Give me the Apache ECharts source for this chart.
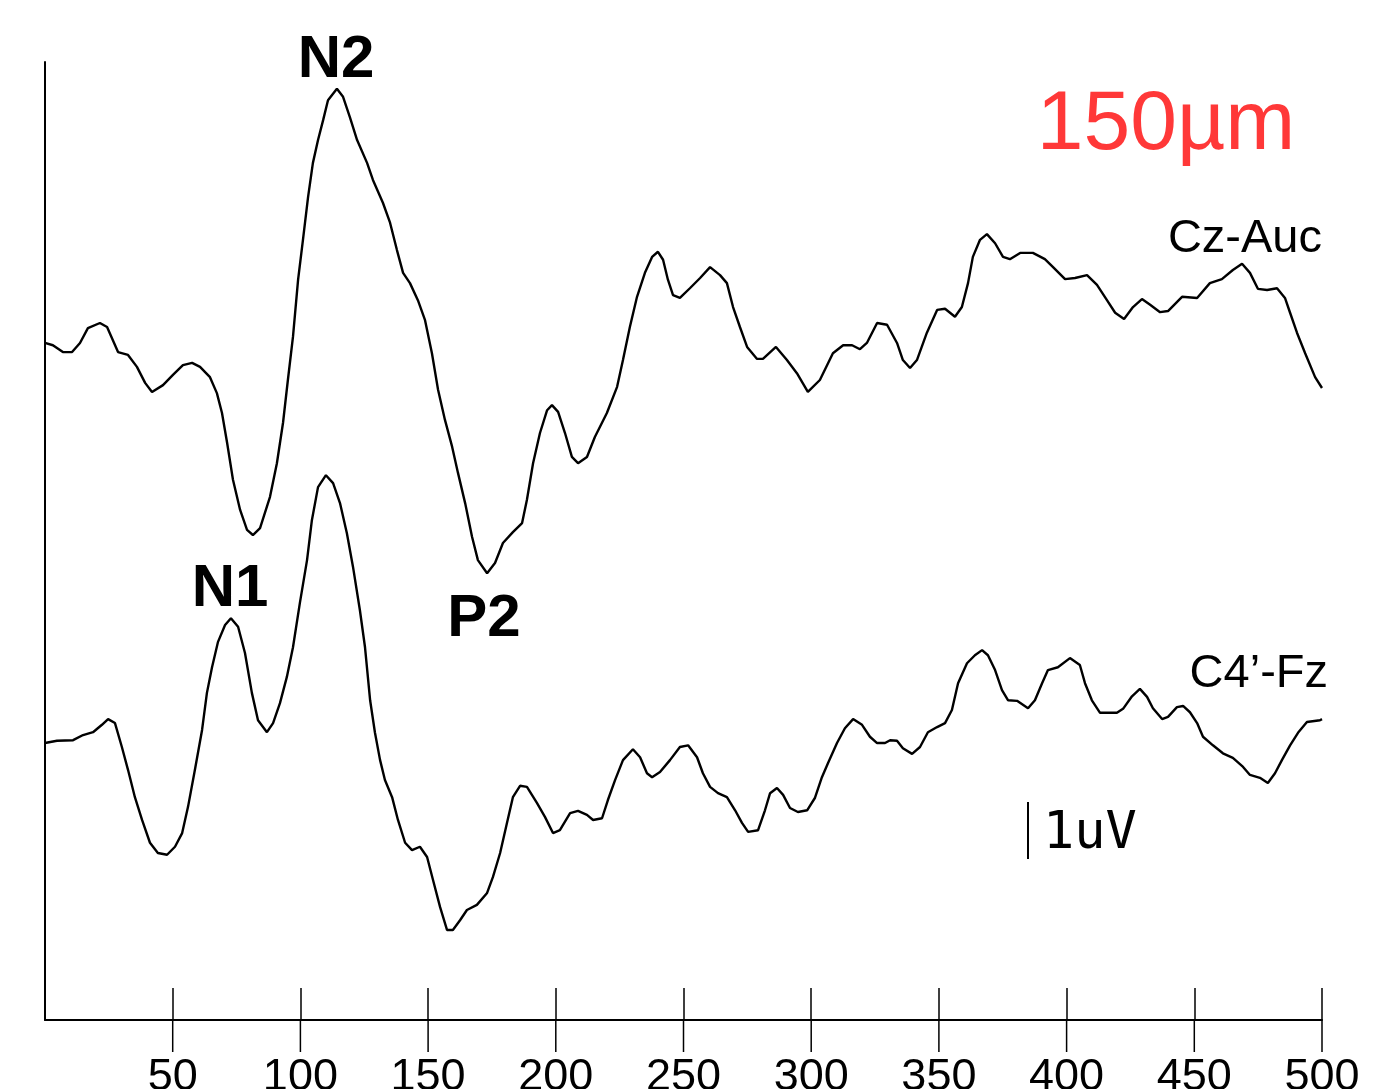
<!DOCTYPE html>
<html>
<head>
<meta charset="utf-8">
<script src="https://cdn.jsdelivr.net/npm/echarts@6/dist/echarts.min.js"></script>
<style>
html,body{margin:0;padding:0;background:#fff;}
#chart{width:1397px;height:1089px;}
</style>
</head>
<body>
<div id="chart"></div>
<script>
// Time axis (ms) tick labels
var tickValues = [50, 100, 150, 200, 250, 300, 350, 400, 450, 500];

// Cz-Auc trace: [time ms, voltage µV] (negative plotted upward)
var czAuc = [
[0,0],[3.1,0.04],[7.0,0.16],[10.6,0.16],[13.7,0],[16.8,-0.26],[21.5,-0.35],[24.3,-0.28],[28.6,0.16],[32.5,0.21],
[36.0,0.42],[39.2,0.70],[41.9,0.86],[46.2,0.74],[50.1,0.56],[54.0,0.39],[57.6,0.35],[60.7,0.42],[64.6,0.60],[67.3,0.88],
[69.3,1.23],[71.3,1.75],[73.6,2.40],[76.4,2.93],[79.1,3.28],[81.4,3.37],[84.2,3.25],[88.1,2.70],[90.8,2.11],[93.2,1.40],
[95.1,0.65],[97.1,-0.11],[99.1,-1.11],[101.0,-1.81],[103.0,-2.56],[104.9,-3.16],[106.9,-3.56],[108.9,-3.91],[110.8,-4.26],[114.3,-4.46],
[116.7,-4.32],[119.4,-3.96],[122.2,-3.56],[126.1,-3.16],[128.4,-2.86],[132.3,-2.46],[135.1,-2.11],[137.8,-1.63],[140.2,-1.23],[142.9,-1.05],
[146.0,-0.75],[148.8,-0.40],[151.5,0.18],[153.9,0.82],[156.6,1.35],[159.4,1.82],[161.7,2.28],[164.5,2.81],[167.2,3.40],[169.5,3.81],
[173.1,4.04],[176.2,3.86],[179.3,3.51],[183.2,3.32],[186.8,3.16],[188.7,2.75],[191.1,2.11],[193.8,1.58],[196.6,1.18],[198.5,1.09],
[200.9,1.21],[203.6,1.58],[206.3,2.00],[208.7,2.11],[212.2,2.00],[215.3,1.65],[220.0,1.23],[224.0,0.77],[226.3,0.30],[229.0,-0.28],
[231.8,-0.81],[234.9,-1.23],[237.7,-1.51],[240.0,-1.60],[242.0,-1.46],[243.9,-1.11],[245.9,-0.84],[248.6,-0.79],[252.5,-0.96],[256.5,-1.14],
[260.4,-1.33],[264.3,-1.19],[267.0,-1.05],[269.4,-0.63],[272.1,-0.28],[274.9,0.07],[278.8,0.28],[281.1,0.28],[286.2,0.07],[290.5,0.30],
[294.4,0.53],[298.7,0.86],[303.4,0.65],[308.5,0.18],[312.5,0.04],[316.0,0.04],[319.1,0.11],[321.8,0],[325.8,-0.35],[329.7,-0.32],
[333.6,0],[335.9,0.30],[338.7,0.44],[341.4,0.30],[345.3,-0.18],[349.3,-0.58],[352.4,-0.60],[356.3,-0.46],[359.0,-0.63],[361.4,-1.05],
[363.3,-1.51],[366.1,-1.81],[368.8,-1.91],[372.0,-1.75],[375.1,-1.51],[377.8,-1.47],[381.8,-1.58],[386.8,-1.58],[391.5,-1.47],[394.7,-1.33],
[399.4,-1.12],[403.3,-1.14],[408.0,-1.19],[411.9,-1.02],[415.8,-0.75],[419.0,-0.53],[422.5,-0.42],[426.0,-0.63],[429.5,-0.77],[432.7,-0.67],
[436.6,-0.54],[439.7,-0.56],[445.2,-0.81],[451.1,-0.79],[456.1,-1.05],[460.8,-1.12],[465.1,-1.28],[468.7,-1.39],[471.8,-1.23],[474.9,-0.95],
[478.5,-0.93],[482.4,-0.96],[485.5,-0.79],[487.5,-0.53],[490.2,-0.18],[493.4,0.18],[497.3,0.60],[500,0.79]
];

// C4'-Fz trace: [time ms, voltage µV]
var c4Fz = [
[0,0],[4.7,-0.04],[11.0,-0.05],[14.9,-0.14],[18.8,-0.19],[22.3,-0.32],[24.7,-0.42],[27.4,-0.35],[30.1,0.07],[32.5,0.47],
[35.2,0.95],[38.0,1.35],[41.1,1.75],[44.2,1.93],[47.8,1.96],[50.9,1.82],[53.7,1.58],[56.0,1.12],[58.7,0.47],[61.5,-0.23],
[63.4,-0.88],[65.4,-1.33],[67.7,-1.77],[70.5,-2.07],[72.8,-2.19],[75.6,-2.04],[78.3,-1.58],[81.0,-0.88],[83.4,-0.40],[86.9,-0.19],
[89.3,-0.35],[92.0,-0.70],[94.7,-1.16],[97.1,-1.68],[99.8,-2.46],[102.6,-3.21],[104.5,-3.91],[106.9,-4.49],[110.0,-4.70],[112.8,-4.56],
[115.5,-4.21],[118.2,-3.68],[120.6,-3.09],[123.3,-2.33],[125.3,-1.68],[127.3,-0.75],[129.2,-0.18],[131.2,0.30],[133.1,0.65],[135.9,0.95],
[138.2,1.35],[141.0,1.75],[143.7,1.88],[146.8,1.82],[149.6,2.00],[151.9,2.40],[154.7,2.88],[157.4,3.28],[159.7,3.28],[162.5,3.11],
[165.2,2.93],[169.1,2.84],[173.1,2.63],[175.4,2.35],[178.2,1.93],[180.9,1.40],[183.2,0.95],[186.0,0.75],[188.7,0.77],[192.6,1.05],
[195.8,1.30],[198.9,1.58],[201.6,1.53],[205.6,1.23],[208.7,1.19],[212.2,1.26],[214.6,1.35],[218.1,1.32],[220.4,1.00],[223.2,0.65],
[226.3,0.30],[230.2,0.11],[233.0,0.25],[235.7,0.53],[237.7,0.60],[240.8,0.51],[244.7,0.30],[248.6,0.07],[251.8,0.04],[255.3,0.25],
[257.6,0.53],[260.4,0.77],[263.5,0.88],[267.0,0.95],[270.2,1.18],[272.9,1.40],[275.3,1.56],[279.2,1.53],[281.9,1.18],[283.9,0.88],
[286.6,0.79],[289.0,0.91],[291.7,1.14],[294.8,1.21],[298.4,1.18],[301.5,0.96],[304.2,0.60],[306.6,0.35],[310.1,0],[313.2,-0.26],
[316.4,-0.42],[319.9,-0.32],[323.0,-0.11],[325.8,0],[328.9,0],[330.9,-0.05],[333.6,-0.04],[335.9,0.09],[339.5,0.19],[342.6,0.07],
[345.7,-0.19],[349.3,-0.28],[352.4,-0.35],[355.1,-0.58],[357.5,-1.05],[361.0,-1.40],[364.1,-1.54],[366.9,-1.63],[369.2,-1.54],[372.0,-1.28],
[374.7,-0.93],[377.1,-0.75],[380.6,-0.74],[384.9,-0.61],[387.6,-0.75],[390.4,-1.05],[392.7,-1.28],[396.6,-1.33],[401.3,-1.49],[405.2,-1.37],
[407.2,-1.05],[409.9,-0.75],[413.1,-0.53],[419.7,-0.53],[422.1,-0.60],[425.6,-0.82],[428.7,-0.95],[431.5,-0.81],[433.8,-0.61],[437.4,-0.42],
[439.7,-0.46],[443.2,-0.63],[445.6,-0.65],[448.3,-0.54],[451.1,-0.35],[453.4,-0.11],[457.3,0.04],[461.2,0.18],[465.1,0.26],[469.1,0.42],
[471.8,0.56],[475.7,0.61],[478.8,0.70],[481.6,0.53],[484.3,0.30],[487.5,0.04],[490.6,-0.18],[494.1,-0.37],[499.2,-0.40],[500,-0.42]
];

var seriesNames = ['Cz-Auc', "C4\u2019-Fz"];
var traceOffsets = [0, 7.02]; // µV vertical stacking offset of each trace
var yMin = -4.93, yMax = 11.88;

var chart = echarts.init(document.getElementById('chart'), null, {renderer: 'canvas'});

function shift(data, off) {
  return data.map(function (p) { return [p[0], p[1] + off]; });
}

var labelFont = '"Liberation Sans", Arial, sans-serif';
var tickStyle = {color: '#000', width: 1.5};

var option = {
  backgroundColor: '#ffffff',
  animation: false,
  grid: {left: 45, right: 75, top: 62, bottom: 69, containLabel: false, outerBoundsMode: 'none'},
  xAxis: {
    type: 'value', min: 0, max: 500, interval: 50, position: 'bottom',
    axisLine: {show: true, onZero: false, lineStyle: {color: '#000', width: 2}},
    axisTick: {show: true, inside: true, length: 32, customValues: tickValues, lineStyle: tickStyle},
    axisLabel: {show: true, customValues: tickValues, margin: 35, color: '#000', fontSize: 45, fontFamily: labelFont},
    splitLine: {show: false}
  },
  yAxis: {
    type: 'value', inverse: true, min: yMin, max: yMax,
    axisLine: {show: true, onZero: false, lineStyle: {color: '#000', width: 2}},
    axisTick: {show: false}, axisLabel: {show: false}, splitLine: {show: false}
  },
  series: [{
    name: seriesNames[0], type: 'line', data: shift(czAuc, traceOffsets[0]),
    showSymbol: false, smooth: false, lineStyle: {color: '#000', width: 2.4}
  }, {
    name: seriesNames[1], type: 'line', data: shift(c4Fz, traceOffsets[1]),
    showSymbol: false, smooth: false, lineStyle: {color: '#000', width: 2.4}
  }, {
    // lower half of the crossing x-axis ticks (below the axis line)
    name: 'ticksBelow', type: 'custom', clip: false, silent: true, z: 10,
    data: tickValues.map(function (v) { return [v]; }),
    encode: {x: 0},
    renderItem: function (params, api) {
      var p = api.coord([api.value(0), yMax]);
      return {type: 'line', shape: {x1: p[0], y1: p[1], x2: p[0], y2: p[1] + 32},
        style: {stroke: '#000', lineWidth: 1.5}};
    }
  }],
  graphic: [
    {type: 'text', x: 336, y: 60, style: {text: 'N2', fill: '#000', font: 'bold 60px "Liberation Sans", Arial, sans-serif', textAlign: 'center', textVerticalAlign: 'middle'}},
    {type: 'text', x: 230, y: 589, style: {text: 'N1', fill: '#000', font: 'bold 60px "Liberation Sans", Arial, sans-serif', textAlign: 'center', textVerticalAlign: 'middle'}},
    {type: 'text', x: 484, y: 619, style: {text: 'P2', fill: '#000', font: 'bold 60px "Liberation Sans", Arial, sans-serif', textAlign: 'center', textVerticalAlign: 'middle'}},
    {type: 'text', x: 1166, y: 126, style: {text: '150\u00b5m', fill: '#ff3838', font: '84px "Liberation Sans", Arial, sans-serif', textAlign: 'center', textVerticalAlign: 'middle'}},
    {type: 'text', x: 1322, y: 239, style: {text: seriesNames[0], fill: '#000', font: '47px "Liberation Sans", Arial, sans-serif', textAlign: 'right', textVerticalAlign: 'middle'}},
    {type: 'text', x: 1328, y: 674, style: {text: seriesNames[1], fill: '#000', font: '47px "Liberation Sans", Arial, sans-serif', textAlign: 'right', textVerticalAlign: 'middle'}},
    {type: 'line', shape: {x1: 1028, y1: 802, x2: 1028, y2: 859}, style: {stroke: '#000', lineWidth: 2}},
    {type: 'text', x: 1043, y: 834, style: {text: '1uV', fill: '#000', font: '52px "DejaVu Sans Mono", monospace', textAlign: 'left', textVerticalAlign: 'middle'}}
  ]
};
chart.setOption(option);
</script>
</body>
</html>
